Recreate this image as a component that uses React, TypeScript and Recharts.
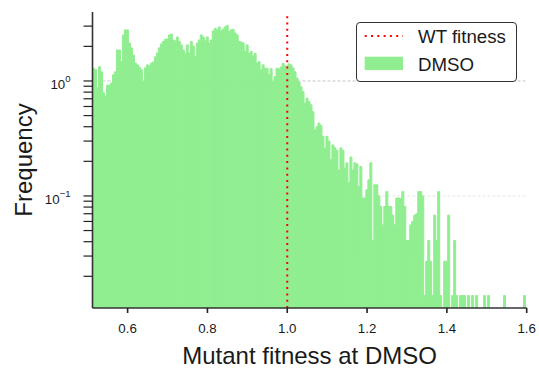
import {
  ComposedChart,
  Bar,
  XAxis,
  YAxis,
  CartesianGrid,
  ReferenceLine,
  Legend,
} from "recharts";

const FONT = '"Liberation Sans", Arial, Helvetica, sans-serif';
const BAR_COLOR = "#90ee90";
const INK = "#1a1a1a";

// histogram bins, 0.005 wide, first edge at 0.512
const BIN_START = 0.512;
const BIN_WIDTH = 0.005;

// density per bin (null = empty bin)
const freqLow = [
  1.29, 1.25, 0.87, 1.33, 1.2, 0.79, 0.74, 0.92, 0.92, 0.96,
  1.13, 1.2, 1.86, 1.86, 1.47, 2.51, 2.78, 2.78, 2.14, 1.94,
  1.68, 1.43, 1.38, 1.32, 1.25, 0.99, 1.3, 1.38, 1.35, 1.43,
  1.46, 1.62, 1.75, 1.94, 2.1, 2.2, 2.3, 2.32, 2.51, 2.56,
  2.27, 2.23, 2.41, 2.2, 2.06, 1.86, 1.74, 2.06, 1.75, 2.2,
];
const freqMid = [
  2.01, 1.63, 2.13, 2.27, 2.51, 2.41, 2.23, 2.41, 2.13, 2.27,
  2.72, 2.87, 2.78, 2.95, 2.72, 2.83, 2.95, 3.04, 2.69, 2.78,
  2.81, 2.61, 2.51, 2.2, 2.18, 2.14, 1.8, 2.06, 1.74, 1.8,
  1.65, 1.74, 1.43, 1.47, 1.25, 1.38, 1.29, 1.29, 1.13, 1.28,
  0.99, 1.09, 1.29, 1.27, 1.32, 1.42, 1.35, 1.35, 1.41, 1.38,
];
const freqHigh = [
  1.3, 1.2, 1.06, 0.98, 0.89, 0.81, 0.64, 0.71, 0.66, 0.62,
  0.54, 0.375, 0.4, 0.43, 0.41, 0.33, 0.26, 0.33, 0.3, 0.206,
  0.278, 0.262, 0.25, 0.168, 0.262, 0.25, 0.175, 0.194, 0.13, 0.218,
  0.168, 0.194, 0.19, 0.12, 0.18, 0.096, 0.096, 0.113, 0.138, 0.194,
  0.041, 0.125, 0.125, 0.1, 0.081, 0.056, 0.081, 0.109, 0.081, 0.081,
  0.068, 0.056, 0.096, 0.096, 0.095, 0.109, 0.081, 0.041, 0.041, 0.056,
];
const freqTail = [
  0.06, 0.068, 0.07, 0.109, 0.109, 0.1, 0.0136, 0.027, 0.041, 0.027,
  0.0136, 0.068, 0.041, 0.109, 0.0136, null, 0.027, 0.027, 0.068, null,
  0.0136, 0.041, 0.0136, null, 0.0136, 0.0136, 0.0136, null, 0.0136, null,
  0.0136, null, 0.0136, null, null, null, 0.0136, null, 0.0136, null,
  null, null, null, null, null, null, 0.0136, null, null, null,
  null, null, null, null, null, null, 0.0136, null,
];

const xTicks = [0.6, 0.8, 1.0, 1.2, 1.4, 1.6];
const yTicks = [
  0.02, 0.03, 0.04, 0.05, 0.06, 0.07, 0.08, 0.09,
  0.1, 0.2, 0.3, 0.4, 0.5, 0.6, 0.7, 0.8, 0.9,
  1, 2, 3,
];
const yExponents: Record<string, string> = { "0.1": "\u22121", "1": "0" };
const gridValues = [0.1, 1];
const gridColors = ["#e4e4e4", "#c6c6c6"];
const wtFitness = 1.0;
const seriesName = "DMSO";
const wtName = "WT fitness";
const xLabel = "Mutant fitness at DMSO";
const yLabel = "Frequency";

const data = [...freqLow, ...freqMid, ...freqHigh, ...freqTail].map((freq, i) => ({
  x: +(BIN_START + BIN_WIDTH * (i + 0.5)).toFixed(4),
  freq,
}));

function LogTick({ x, y, payload }: any) {
  const exp = yExponents[String(payload.value)];
  if (exp === undefined) return null;
  return (
    <text x={x} y={y} dy={8.3} textAnchor="end" fontFamily={FONT} fontSize={13.3} fill={INK}>
      10
      <tspan dy={-7.3} fontSize={9.5}>
        {exp}
      </tspan>
    </text>
  );
}

function GridLine(props: any) {
  const { x1, x2, y1, y2, index } = props;
  return (
    <line
      x1={x1}
      x2={x2}
      y1={y1}
      y2={y2}
      stroke={gridColors[index] ?? gridColors[1]}
      strokeWidth={1}
      strokeDasharray="3 2"
    />
  );
}

function LegendBox() {
  return (
    <div
      style={{
        width: 161,
        height: 60,
        boxSizing: "border-box",
        border: "1.3px solid #333",
        borderRadius: 4,
        background: "#fff",
      }}
    >
      <svg width={158} height={57} style={{ display: "block" }}>
        <line x1={7.7} y1={13.1} x2={46} y2={13.1} stroke="red" strokeWidth={2} strokeDasharray="2 4.3" />
        <text x={61} y={19.9} fontFamily={FONT} fontSize={18.7} fill={INK}>
          {wtName}
        </text>
        <rect x={7.7} y={33.7} width={38.3} height={13.4} fill={BAR_COLOR} />
        <text x={61} y={47.8} fontFamily={FONT} fontSize={18.7} fill={INK}>
          {seriesName}
        </text>
      </svg>
    </div>
  );
}

export default function App() {
  return (
    <div style={{ position: "absolute", left: 0, top: 0, width: 539, height: 369, background: "#fff" }}>
      <ComposedChart
        width={539}
        height={369}
        data={data}
        margin={{ top: 12, right: 12.3, bottom: 0, left: 12.5 }}
        barCategoryGap={0}
        barGap={0}
      >
        <CartesianGrid
          vertical={false}
          horizontalValues={gridValues}
          horizontal={(p: any) => <GridLine key={p.key} {...p} />}
        />
        <XAxis
          dataKey="x"
          type="number"
          domain={[0.512, 1.6]}
          allowDataOverflow
          ticks={xTicks}
          tickFormatter={(v: number) => v.toFixed(1)}
          height={61}
          tickSize={5}
          tickMargin={10.6}
          tick={{ fill: INK, fontSize: 13.3, fontFamily: FONT }}
          axisLine={{ stroke: "#333", strokeWidth: 1.6 }}
          tickLine={{ stroke: "#222", strokeWidth: 1.6 }}
          label={{
            value: xLabel,
            position: "insideBottom",
            offset: 5,
            fill: INK,
            fontSize: 24,
            fontFamily: FONT,
          }}
        />
        <YAxis
          scale="log"
          type="number"
          domain={[0.0106, 3.98]}
          allowDataOverflow
          ticks={yTicks}
          interval={0}
          width={80}
          tickSize={9}
          tickMargin={13}
          tick={<LogTick />}
          axisLine={{ stroke: "#333", strokeWidth: 1.6 }}
          tickLine={{ stroke: "#222", strokeWidth: 1.2 }}
          label={{
            value: yLabel,
            angle: -90,
            position: "insideLeft",
            offset: 11,
            fill: INK,
            fontSize: 24,
            fontFamily: FONT,
            style: { textAnchor: "middle" },
          }}
        />
        <Bar
          dataKey="freq"
          name={seriesName}
          fill={BAR_COLOR}
          stroke={BAR_COLOR}
          strokeWidth={1}
          isAnimationActive={false}
        />
        <ReferenceLine
          x={wtFitness}
          stroke="red"
          strokeWidth={2}
          strokeDasharray="2 4.3"
        />
        <Legend
          layout="vertical"
          align="center"
          verticalAlign="middle"
          wrapperStyle={{ left: 356, top: 22, width: 161, height: 60 }}
          content={<LegendBox />}
        />
      </ComposedChart>
    </div>
  );
}
